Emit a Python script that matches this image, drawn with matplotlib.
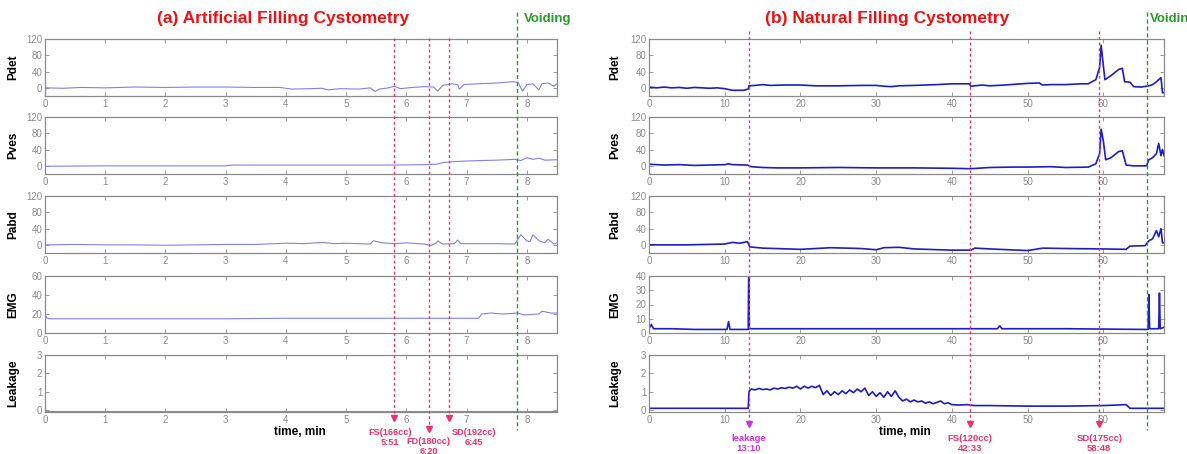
import matplotlib
matplotlib.use("Agg")
import matplotlib.pyplot as plt
import numpy as np

plt.rcParams['font.family'] = ['Liberation Sans', 'DejaVu Sans']

# ---------------- data: (a) artificial filling ----------------
a_pdet_t = [0, 0.3, 0.6, 1.0, 1.5, 2.0, 2.5, 3.0, 3.5, 3.9, 4.1, 4.4, 4.6, 4.7, 4.9, 5.2, 5.4, 5.48,
            5.55, 5.7, 5.8, 5.9, 6.1, 6.3, 6.45, 6.52, 6.6, 6.75, 6.85, 6.88, 6.95, 7.2, 7.5, 7.75,
            7.85, 7.93, 8.0, 8.1, 8.2, 8.25, 8.35, 8.45, 8.5]
a_pdet_v = [0, -1, 1, 0, 2, 1, 2, 2, 1, 1, -3, -2, -1, -5, -2, -3, 0, -9,
            -3, 0, 4, -2, 1, 3, 2, -8, 6, 10, 8, -3, 8, 10, 12, 15,
            14, -8, 8, 10, -5, 10, 12, 4, 10]
a_pves_t = [0, 1, 2, 3.0, 3.1, 4, 5, 5.8, 6.3, 6.5, 6.6, 6.75, 7.0, 7.5, 7.8, 7.9, 8.0, 8.1, 8.2, 8.3, 8.5]
a_pves_v = [-1, 0, 0, 0, 2, 2, 2, 2, 3, 4, 8, 10, 12, 14, 16, 13, 20, 16, 19, 14, 15]
a_pabd_t = [0, 0.5, 1, 1.5, 2, 2.5, 3, 3.5, 4.0, 4.3, 4.6, 4.8, 5.0, 5.4, 5.45, 5.6, 5.8, 6.0, 6.3,
            6.4, 6.5, 6.52, 6.6, 6.8, 6.85, 6.9, 7.5, 7.8, 7.9, 8.0, 8.05, 8.1, 8.2, 8.3, 8.35, 8.45, 8.5]
a_pabd_v = [0, 1, 0, 0, -1, 0, 1, 1, 4, 3, 6, 3, 4, 2, 10, 5, 3, 5, 2,
            -2, 5, 10, 2, 3, 12, 3, 3, 2, 25, 10, 8, 25, 10, 5, 14, 2, 5]
a_emg_t = [0, 0.01, 0.03, 0.08, 1, 2, 3, 4, 5, 6, 7.0, 7.2, 7.25, 7.4, 7.6, 7.85, 7.95, 8.2, 8.25, 8.4, 8.5]
a_emg_v = [0, 18, 16, 15, 15, 15, 15, 15.5, 15.5, 15.5, 15.5, 15.5, 20, 21, 20, 21, 19, 20, 23, 21, 21]
a_leak_t = [0, 1, 2, 3, 4, 5, 6, 7, 8, 8.5]
a_leak_v = [-0.02, -0.02, -0.02, -0.02, -0.02, -0.02, -0.02, -0.02, -0.02, -0.02]

# ---------------- data: (b) natural filling ----------------
b_pdet_t = [0, 1, 2, 3, 4, 5, 6, 7, 8, 9, 10, 11, 12.5, 13.1, 13.2, 14, 15, 16, 18, 20, 22, 25, 28, 30,
            31, 32, 33, 35, 38, 40, 42.3, 42.5, 44, 45, 47, 50, 51.5, 52, 53, 55, 57, 58, 59, 59.5, 59.7,
            59.9, 60.2, 61, 62, 62.5, 62.8, 63.5, 64, 65, 66, 66.5, 67, 67.3, 67.6, 67.8, 68]
b_pdet_v = [2, 0, 2, 0, 1, -1, 1, 0, -1, 0, -2, -6, -6, -3, 5, 6, 8, 6, 7, 7, 5, 5, 6, 6,
            4, 3, 5, 6, 8, 10, 10, 4, 7, 5, 7, 11, 12, 7, 8, 8, 10, 10, 20, 50, 105,
            70, 20, 30, 45, 48, 15, 14, 3, 2, 5, 8, 15, 20, 25, -12, -12]
b_pves_t = [0, 2, 4, 6, 8, 10, 10.5, 11, 13, 13.5, 15, 17, 20, 25, 30, 35, 40, 42.5, 45, 48, 50, 53,
            55, 58, 59, 59.5, 59.7, 60, 60.3, 61, 62, 62.5, 63, 64, 65, 65.7, 66, 66.5, 67, 67.3, 67.6,
            67.8, 68]
b_pves_v = [4, 2, 3, 1, 2, 3, 5, 3, 2, -2, -4, -5, -5, -4, -5, -5, -6, -7, -4, -3, -3, -2,
            -4, -3, 5, 30, 90, 60, 15, 20, 35, 37, 2, 0, 0, 0, 15, 20, 30, 55, 25,
            40, 25]
b_pabd_t = [0, 5, 10, 11, 12, 13, 13.3, 15, 20, 24, 28, 30, 31, 33, 35, 40, 42.5, 43, 45, 50, 51, 52,
            55, 60, 63, 63.5, 65.5, 66, 66.5, 67, 67.3, 67.6, 67.8, 68]
b_pabd_v = [0, 0, 2, 6, 4, 8, -5, -8, -11, -7, -9, -12, -7, -6, -10, -13, -13, -8, -10, -14, -11, -8,
            -9, -10, -11, -3, -2, 10, 15, 35, 20, 40, 5, 5]
b_emg_t = [0, 0.3, 0.6, 3, 6, 9, 10.3, 10.5, 10.7, 12, 13.1, 13.17, 13.25, 20, 30, 40, 46, 46.3, 46.6,
           55, 65.5, 65.9, 66.0, 66.1, 67.3, 67.4, 67.5, 68]
b_emg_v = [3, 6, 3, 3, 2.5, 2.5, 2.5, 8, 2.5, 2.5, 2.5, 45, 3, 3, 3, 3, 3, 5, 3,
           3, 2.5, 2.5, 27, 3, 3, 28, 3, 4]
b_leak_t = [0, 13.1, 13.2, 13.5, 14, 14.5, 15, 15.5, 16, 16.5, 17, 17.5, 18, 18.5, 19, 19.5, 20, 20.5,
            21, 21.5, 22, 22.5, 23, 23.5, 24, 24.5, 25, 25.5, 26, 26.5, 27, 27.5, 28, 28.5, 29, 29.5,
            30, 30.5, 31, 31.5, 32, 32.5, 33, 33.5, 34, 34.5, 35, 35.5, 36, 36.5, 37, 37.5, 38, 38.5,
            39, 39.5, 40, 41, 42, 43, 45, 50, 55, 60, 63, 63.5, 68]
b_leak_v = [0.1, 0.1, 1.0, 1.15, 1.1, 1.18, 1.12, 1.15, 1.1, 1.2, 1.15, 1.22, 1.18, 1.25, 1.2, 1.3, 1.15, 1.3,
            1.2, 1.3, 1.22, 1.35, 0.85, 1.05, 0.8, 1.0, 0.85, 1.05, 0.9, 1.1, 0.95, 1.15, 1.0, 1.2, 0.8, 1.0,
            0.75, 0.95, 0.7, 1.0, 0.75, 1.05, 0.7, 0.5, 0.6, 0.45, 0.55, 0.45, 0.5, 0.38, 0.45, 0.35, 0.42, 0.5,
            0.35, 0.4, 0.3, 0.28, 0.3, 0.25, 0.25, 0.22, 0.22, 0.25, 0.3, 0.1, 0.1]

ylabels = ['Pdet', 'Pves', 'Pabd', 'EMG', 'Leakage']
a_ylim = [(-20, 120), (-20, 120), (-20, 120), (0, 60), (-0.1, 3)]
b_ylim = [(-20, 120), (-20, 120), (-20, 120), (0, 40), (-0.1, 3)]
a_yticks = [[0, 40, 80, 120]] * 3 + [[0, 20, 40, 60], [0, 1, 2, 3]]
b_yticks = [[0, 40, 80, 120]] * 3 + [[0, 10, 20, 30, 40], [0, 1, 2, 3]]
a_xticks = [0, 1, 2, 3, 4, 5, 6, 7, 8]
b_xticks = [0, 10, 20, 30, 40, 50, 60]

a_events = [5.8, 6.37, 6.71]
a_event_labels = ['FS(166cc)\n5:51', 'FD(180cc)\n6:20', 'SD(192cc)\n6:45']
a_void = 7.83
b_events = [13.17, 42.4, 59.45]
b_event_labels = ['leakage\n13:10', 'FS(120cc)\n42:33', 'SD(175cc)\n58:48']
b_void = 65.7

W, H = 1187, 454
fig = plt.figure(figsize=(W / 100, H / 100), dpi=100)

tops = [39, 117, 196, 276, 355]
axh = 57
gray = '#8a8a8a'


def panel(x0, x1, xlim, xticks, series, ylims, yticks, color, lw, labx):
    axes = []
    for i in range(5):
        ax = fig.add_axes([x0 / W, 1 - (tops[i] + axh) / H, (x1 - x0) / W, axh / H])
        t, v = series[i]
        ax.plot(t, v, color=color, lw=lw)
        ax.set_xlim(*xlim)
        ax.set_ylim(*ylims[i])
        ax.set_xticks(xticks)
        ax.set_yticks(yticks[i])
        ax.tick_params(direction='in', length=3, width=0.6, colors=gray, labelsize=7,
                       top=True, right=True, pad=2)
        for s in ax.spines.values():
            s.set_color(gray)
            s.set_linewidth(0.9)
        ax.set_ylabel(ylabels[i], fontsize=8.5, fontweight='bold')
        ax.yaxis.set_label_coords(labx, 0.5)
        axes.append(ax)
    ov = fig.add_axes([x0 / W, 0, (x1 - x0) / W, 1], facecolor='none')
    ov.set_xlim(*xlim)
    ov.set_ylim(H, 0)
    ov.axis('off')
    ov.set_zorder(10)
    return axes, ov


a_series = [(a_pdet_t, a_pdet_v), (a_pves_t, a_pves_v), (a_pabd_t, a_pabd_v),
            (a_emg_t, a_emg_v), (a_leak_t, a_leak_v)]
b_series = [(b_pdet_t, b_pdet_v), (b_pves_t, b_pves_v), (b_pabd_t, b_pabd_v),
            (b_emg_t, b_emg_v), (b_leak_t, b_leak_v)]

axA, ovA = panel(45, 557, (0, 8.5), a_xticks, a_series, a_ylim, a_yticks, '#8080f0', 0.8, -0.05)
axB, ovB = panel(649, 1164, (0, 68), b_xticks, b_series, b_ylim, b_yticks, '#1c1cc8', 1.2, -0.054)

red = '#f0306a'
green = '#2a9a2a'
mag = '#cc33dd'

# (a) event lines
marker_y_a = [418, 429, 418]
label_y_a = [428, 437, 428]
label_dx_a = [-3, 0, 18]   # points
for x, lab, my, ly, dx in zip(a_events, a_event_labels, marker_y_a, label_y_a, label_dx_a):
    ovA.plot([x, x], [38, my], color=red, lw=1, ls=(0, (2, 2)), clip_on=False)
    ovA.plot([x], [my], marker='v', color=red, ms=4, clip_on=False)
    ovA.annotate(lab, xy=(x, ly), xytext=(dx, 0), textcoords='offset points',
                 color=red, fontsize=6.6, fontweight='bold', ha='center', va='top',
                 linespacing=1.15, annotation_clip=False)
ovA.plot([a_void, a_void], [12, 430], color=green, lw=1, ls=(0, (3, 2)), clip_on=False)

# (b) event lines
cols_b = [mag, red, red]
for x, lab, c in zip(b_events, b_event_labels, cols_b):
    ovB.plot([x, x], [31, 424], color=c, lw=1, ls=(0, (2, 2)), clip_on=False)
    ovB.plot([x], [424], marker='v', color=c, ms=4, clip_on=False)
    ovB.text(x, 434, lab, color=c, fontsize=6.8, fontweight='bold', ha='center', va='top',
             linespacing=1.15, clip_on=False)
ovB.plot([b_void, b_void], [12, 430], color=green, lw=1, ls=(0, (3, 2)), clip_on=False)

# titles
fig.text(283 / W, 1 - 19 / H, '(a) Artificial Filling Cystometry', color='#ee1111', fontsize=12.5,
         fontweight='bold', ha='center', va='center')
fig.text(524 / W, 1 - 19 / H, 'Voiding', color=green, fontsize=9.5, fontweight='bold',
         ha='left', va='center')
fig.text(887 / W, 1 - 19 / H, '(b) Natural Filling Cystometry', color='#ee1111', fontsize=12.5,
         fontweight='bold', ha='center', va='center')
fig.text(1150 / W, 1 - 19 / H, 'Voiding', color=green, fontsize=9.5, fontweight='bold',
         ha='left', va='center')

fig.text(300 / W, 1 - 432 / H, 'time, min', fontsize=8.5, fontweight='bold', ha='center', va='center')
fig.text(905 / W, 1 - 432 / H, 'time, min', fontsize=8.5, fontweight='bold', ha='center', va='center')

fig.savefig('out.png', dpi=100)
